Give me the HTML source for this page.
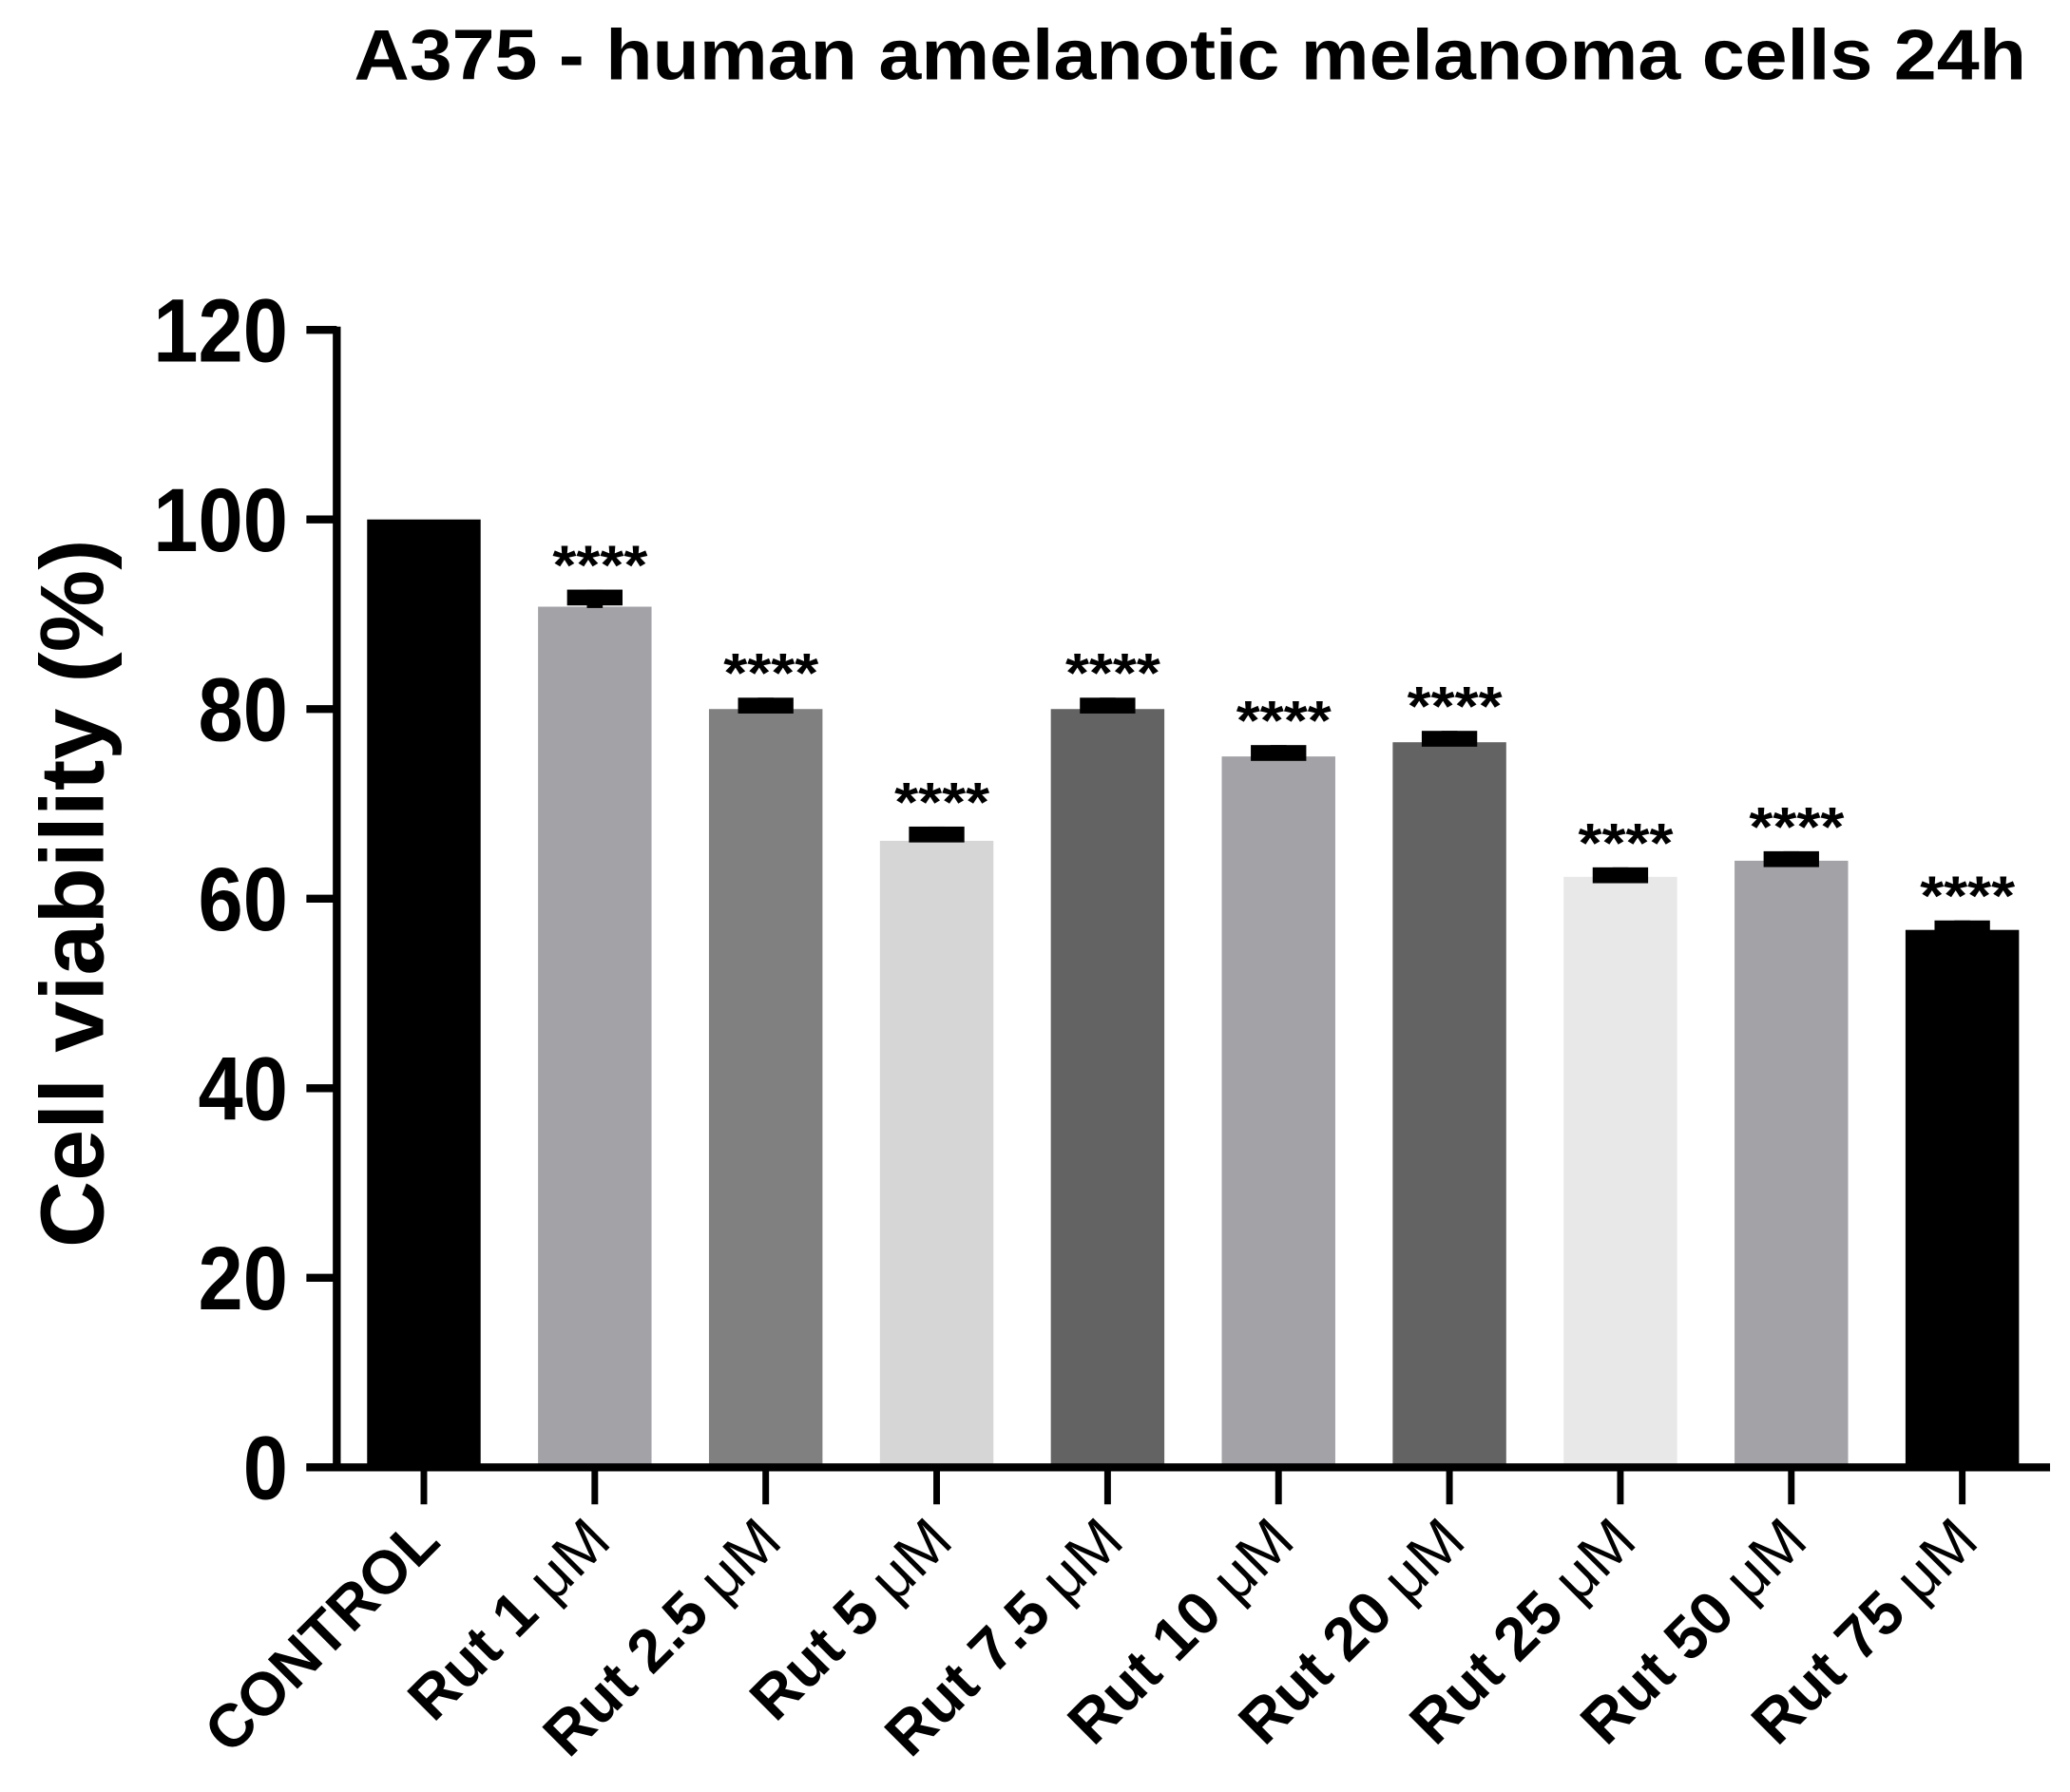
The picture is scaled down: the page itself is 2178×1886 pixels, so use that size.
<!DOCTYPE html>
<html><head><meta charset="utf-8"><style>
html,body{margin:0;padding:0;background:#fff;}
svg{display:block;font-family:"Liberation Sans",Arial,sans-serif;}
</style></head><body>
<svg id="chart" width="2178" height="1886" viewBox="0 0 1568 1358" xmlns="http://www.w3.org/2000/svg">
<rect width="1568" height="1358" fill="#fff"/>
<text x="268" y="60" font-size="54" font-weight="bold" fill="#000" textLength="1267" lengthAdjust="spacingAndGlyphs">A375 - human amelanotic melanoma cells 24h</text>
<text transform="translate(78,677) rotate(-90)" text-anchor="middle" font-size="68" font-weight="bold" fill="#000" textLength="537" lengthAdjust="spacingAndGlyphs">Cell viability (%)</text>
<g id="plot"></g>
</svg>
<script>
const categories = ["CONTROL","Rut 1","Rut 2.5","Rut 5","Rut 7.5","Rut 10","Rut 20","Rut 25","Rut 50","Rut 75"];
const values = [100, 90.8, 80, 66.1, 80, 75, 76.5, 62.3, 64, 56.7];
const errors = [0, 1.8, 1.2, 1.5, 1.2, 1.2, 1.2, 1.0, 1.0, 1.0];
const significance = ["", "****","****","****","****","****","****","****","****","****"];
const colors = ["#000000","#a3a2a7","#808080","#d6d6d6","#636363","#a3a2a7","#636363","#e8e8e8","#a3a2a7","#000000"];
const yTicks = [0,20,40,60,80,100,120];

const NS = "http://www.w3.org/2000/svg";
const g = document.getElementById('plot');
const x0 = 255, yBase = 1112, yTop = 250, yMax = 120;
const firstCenter = 321, step = 129.5, barW = 86;
function yScale(v){ return yBase - (v / yMax) * (yBase - yTop); }
function xScale(i){ return firstCenter + i * step; }
function mk(tag, attrs){ const e = document.createElementNS(NS, tag); for (const k in attrs) e.setAttribute(k, attrs[k]); g.appendChild(e); return e; }

categories.forEach((c, i) => {
  const cx = xScale(i), top = yScale(values[i]);
  const r = mk('rect', {x: cx - barW/2, y: top, width: barW, height: yBase - top, fill: colors[i]});
  
  
  if (errors[i] > 0) {
    const et = yScale(values[i] + errors[i]);
    const s = mk('rect', {x: cx - 6, y: et, width: 12, height: top - et + 1, fill: '#000'});
    
    
    const cap = mk('rect', {x: cx - 21, y: et, width: 42, height: 12, fill: '#000'});
    
    
  }
  if (significance[i]) {
    const et = yScale(values[i] + errors[i]);
    const t = mk('text', {x: cx + 4, y: et - 4, 'text-anchor': 'middle', 'font-size': 42, 'font-weight': 'bold', fill: '#000', textLength: 72, lengthAdjust: 'spacingAndGlyphs'});
    t.textContent = significance[i];
    
    
  }
  const tk = mk('line', {x1: cx, x2: cx, y1: yBase, y2: yBase + 28, stroke: '#000', 'stroke-width': 5});
  
  
  const lx = cx + 14, ly = yBase + 58;
  const lab = mk('text', {transform: 'translate(' + lx + ',' + ly + ') rotate(-45)', 'text-anchor': 'end', 'font-size': 46, 'font-weight': 'bold', fill: '#000'});
  
  
  if (c === 'CONTROL') { lab.textContent = c; }
  else {
    const a = document.createElementNS(NS, 'tspan'); a.textContent = c + ' ';
    const b = document.createElementNS(NS, 'tspan'); b.setAttribute('font-weight', 'normal'); b.textContent = 'μM';
    lab.appendChild(a); lab.appendChild(b);
  }
});

const ya = mk('line', {x1: x0, x2: x0, y1: yTop - 2.5, y2: yBase + 2.5, stroke: '#000', 'stroke-width': 6});


const xa = mk('line', {x1: 232, x2: 1553, y1: yBase, y2: yBase, stroke: '#000', 'stroke-width': 6});


yTicks.forEach(v => {
  const y = yScale(v);
  const l = mk('line', {x1: 232, x2: x0, y1: y, y2: y, stroke: '#000', 'stroke-width': 6});
  
  
  const t = mk('text', {x: 218, y: y + 24, 'text-anchor': 'end', 'font-size': 68, 'font-weight': 'bold', fill: '#000', textLength: String(v).length * 34, lengthAdjust: 'spacingAndGlyphs'});
  t.textContent = v;
  
  
});
</script>
</body></html>
